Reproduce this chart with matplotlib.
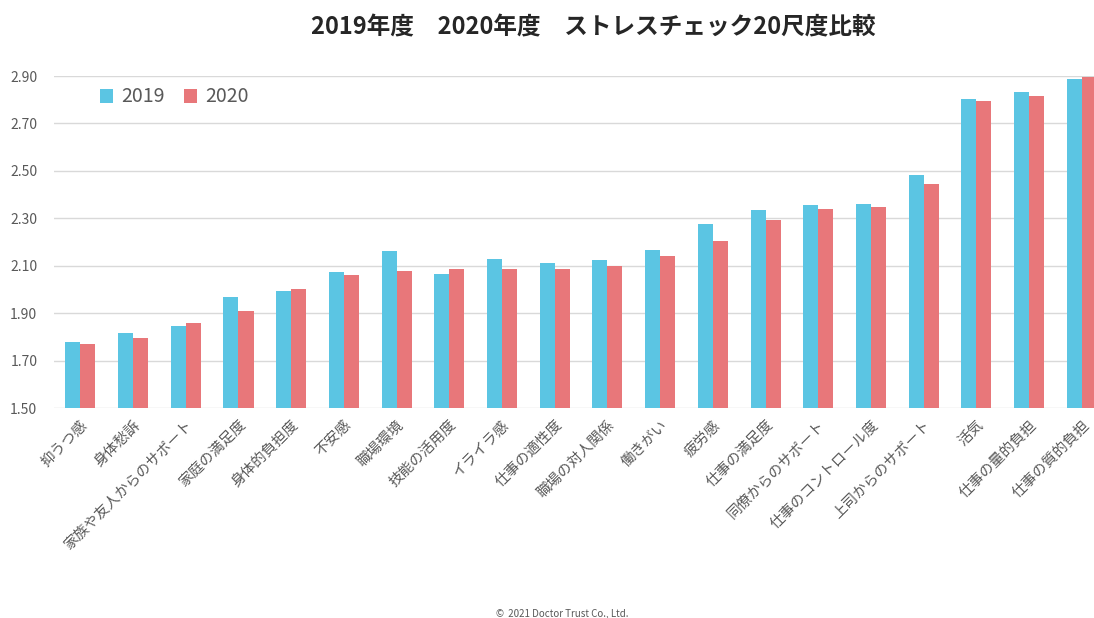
import numpy as np
import matplotlib
matplotlib.use("Agg")
import matplotlib.pyplot as plt

plt.rcParams['font.family'] = ['Noto Sans CJK JP', 'DejaVu Sans']

# ストレスチェック20尺度 (sorted as in the chart)
categories = ['抑うつ感', '身体愁訴', '家族や友人からのサポート', '家庭の満足度', '身体的負担度',
              '不安感', '職場環境', '技能の活用度', 'イライラ感', '仕事の適性度',
              '職場の対人関係', '働きがい', '疲労感', '仕事の満足度', '同僚からのサポート',
              '仕事のコントロール度', '上司からのサポート', '活気', '仕事の量的負担', '仕事の質的負担']
vals_2019 = [1.78, 1.815, 1.846, 1.966, 1.992, 2.074, 2.164, 2.066, 2.129, 2.111,
             2.122, 2.167, 2.275, 2.334, 2.354, 2.361, 2.482, 2.804, 2.831, 2.886]
vals_2020 = [1.77, 1.797, 1.857, 1.909, 2.000, 2.059, 2.078, 2.085, 2.085, 2.088,
             2.099, 2.140, 2.205, 2.291, 2.340, 2.348, 2.444, 2.793, 2.817, 2.894]
yticks = [1.50, 1.70, 1.90, 2.10, 2.30, 2.50, 2.70, 2.90]

c19 = '#5bc5e3'
c20 = '#e8777a'
gray = '#595959'

fig = plt.figure(figsize=(10.94, 6.18), dpi=100)
ax = fig.add_axes([54 / 1094, 1 - 408 / 618, 1040 / 1094, 332 / 618])

x = np.arange(len(categories))
w = 0.285
ax.bar(x - w / 2, vals_2019, w, color=c19, label='2019', zorder=3)
ax.bar(x + w / 2, vals_2020, w, color=c20, label='2020', zorder=3)

ax.set_ylim(1.5, 2.9)
ax.set_xlim(-0.5, 19.23)
ax.set_yticks(yticks)
ax.set_yticklabels([f'{v:.2f}' for v in yticks], color=gray, fontsize=10)
ax.yaxis.grid(True, color='#d9d9d9', linewidth=1, zorder=0)
ax.set_axisbelow(True)
for s in ax.spines.values():
    s.set_visible(False)
ax.tick_params(length=0)
ax.tick_params(axis='y', pad=12)

ax.set_xticks(x)
ax.set_xticklabels(categories, rotation=45, ha='right', rotation_mode='anchor',
                   fontsize=10.5, color=gray)
ax.tick_params(axis='x', pad=7)

fig.legend(loc='center left', bbox_to_anchor=(82 / 1094, 1 - 97 / 618), ncol=2,
           frameon=False, fontsize=14, handlelength=0.7, handleheight=0.7,
           handletextpad=0.4, columnspacing=1.0, labelcolor=gray)

fig.text(593 / 1094, 1 - 27 / 618, '2019年度　2020年度　ストレスチェック20尺度比較',
         ha='center', va='center', fontsize=17, fontweight='bold', color='#262626')
fig.text(562 / 1094, 1 - 614 / 618, '©  2021 Doctor Trust Co., Ltd.',
         ha='center', va='center', fontsize=7, color=gray)

fig.savefig('out.png', dpi=100)
